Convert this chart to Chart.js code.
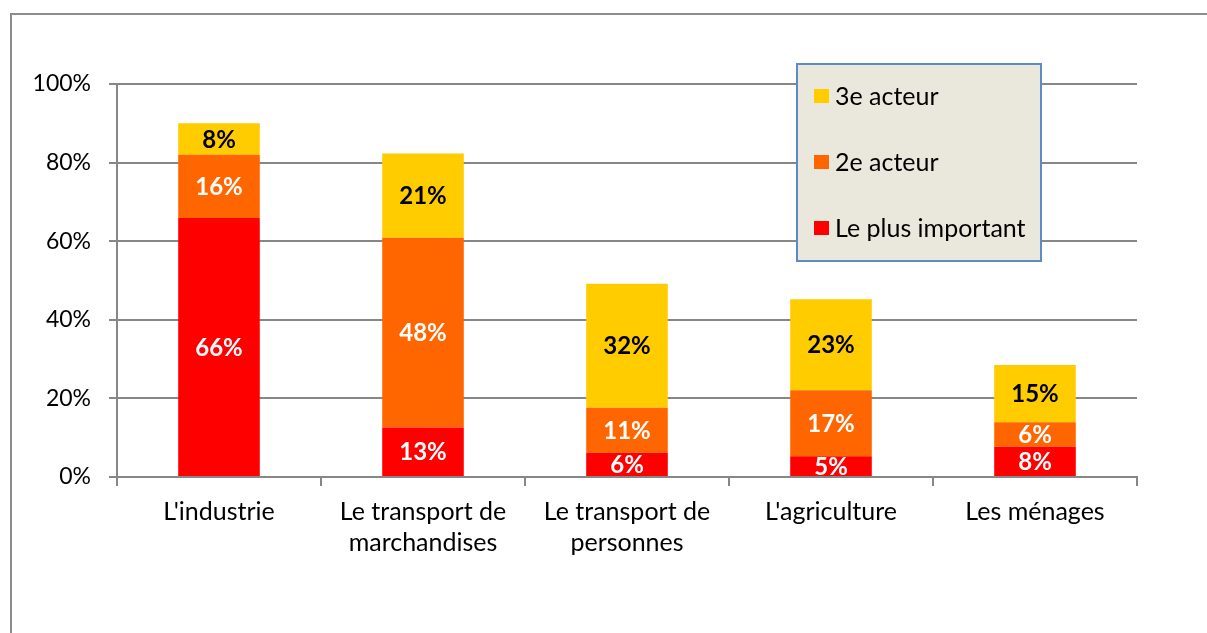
<!DOCTYPE html>
<html>
<head>
<meta charset="utf-8">
<script src="https://cdn.jsdelivr.net/npm/chart.js@4"></script>
<style>
  html, body { margin: 0; padding: 0; background: #fff; }
  #wrap { width: 1207px; height: 633px; position: relative; }
</style>
</head>
<body>
<div id="wrap"><canvas id="chart" width="1207" height="633"></canvas></div>
<script>
  const categories = [
    "L'industrie",
    ["Le transport de", "marchandises"],
    ["Le transport de", "personnes"],
    "L'agriculture",
    "Les ménages",
  ];
  const seriesNames = ["Le plus important", "2e acteur", "3e acteur"];
  const plusImportant = [65.9, 12.6, 6.2, 5.3, 7.7];
  const deuxiemeActeur = [16.1, 48.3, 11.4, 16.8, 6.2];
  const troisiemeActeur = [8.0, 21.4, 31.6, 23.1, 14.6];
  const yTicks = [0, 20, 40, 60, 80, 100];

  const colors = ["#FF0000", "#FF6600", "#FFCC00"];
  const labelColors = ["#FFFFFF", "#FFFFFF", "#000000"];
  const FONT = "Lato, 'Open Sans', sans-serif";
  const GRID = "#878787";

  // frame, value labels and the boxed legend
  const decorPlugin = {
    id: "decor",
    beforeDraw(chart) {
      const ctx = chart.ctx;
      ctx.save();
      ctx.strokeStyle = "#8c8c8c";
      ctx.lineWidth = 2;
      ctx.beginPath();
      ctx.moveTo(11, 633);
      ctx.lineTo(11, 14);
      ctx.lineTo(1207, 14);
      ctx.stroke();
      ctx.restore();
    },
    afterDatasetsDraw(chart) {
      const ctx = chart.ctx;
      ctx.save();
      ctx.font = "bold 24px " + FONT;
      ctx.textAlign = "center";
      ctx.textBaseline = "middle";
      chart.data.datasets.forEach((ds, i) => {
        const meta = chart.getDatasetMeta(i);
        meta.data.forEach((bar, j) => {
          ctx.fillStyle = labelColors[i];
          const cy = (bar.y + bar.base) / 2 + 1;
          ctx.fillText(Math.round(ds.data[j]) + "%", bar.x, cy);
        });
      });
      ctx.restore();
    },
    afterDraw(chart) {
      const ctx = chart.ctx;
      const box = { x: 797, y: 64, w: 244, h: 197 };
      ctx.save();
      ctx.fillStyle = "#EAE8DD";
      ctx.fillRect(box.x, box.y, box.w, box.h);
      ctx.strokeStyle = "#5F8AC4";
      ctx.lineWidth = 2;
      ctx.strokeRect(box.x, box.y, box.w, box.h);
      ctx.font = "25px " + FONT;
      ctx.textAlign = "left";
      ctx.textBaseline = "middle";
      const order = [2, 1, 0];
      order.forEach((dsIndex, k) => {
        const cy = 96 + k * 66;
        ctx.fillStyle = chart.data.datasets[dsIndex].backgroundColor;
        ctx.fillRect(814, cy - 7, 15, 14);
        ctx.fillStyle = "#000";
        ctx.fillText(chart.data.datasets[dsIndex].label, 835, cy + 1);
      });
      ctx.restore();
    },
  };

  const seriesData = [plusImportant, deuxiemeActeur, troisiemeActeur];

  new Chart(document.getElementById("chart"), {
    type: "bar",
    data: {
      labels: categories,
      datasets: seriesNames.map((name, i) => ({
        label: name,
        data: seriesData[i],
        backgroundColor: colors[i],
        borderWidth: 0,
        barPercentage: 0.4,
        categoryPercentage: 1,
      })),
    },
    options: {
      responsive: false,
      animation: false,
      layout: { padding: { left: 0, right: 70, top: 84, bottom: 0 } },
      plugins: {
        legend: { display: false },
        tooltip: { enabled: false },
      },
      scales: {
        x: {
          stacked: true,
          offset: true,
          afterFit(scale) { scale.height = 156; },
          grid: {
            offset: true,
            drawOnChartArea: false,
            drawTicks: true,
            tickLength: 9,
            color: GRID,
            lineWidth: 2,
          },
          border: { display: true, color: GRID, width: 2 },
          ticks: {
            color: "#000",
            padding: 10,
            maxRotation: 0,
            autoSkip: false,
            font: { family: FONT, size: 25, lineHeight: 1.24 },
          },
        },
        y: {
          stacked: true,
          min: 0,
          max: 100,
          afterFit(scale) { scale.width = 117; },
          afterBuildTicks(scale) { scale.ticks = yTicks.map((v) => ({ value: v })); },
          grid: {
            color: GRID,
            lineWidth: 2,
            drawTicks: true,
            tickLength: 8,
          },
          border: { display: true, color: GRID, width: 2 },
          ticks: {
            color: "#000",
            padding: 18,
            callback: (v) => v + "%",
            font: { family: FONT, size: 23 },
          },
        },
      },
    },
    plugins: [decorPlugin],
  });
</script>
</body>
</html>
